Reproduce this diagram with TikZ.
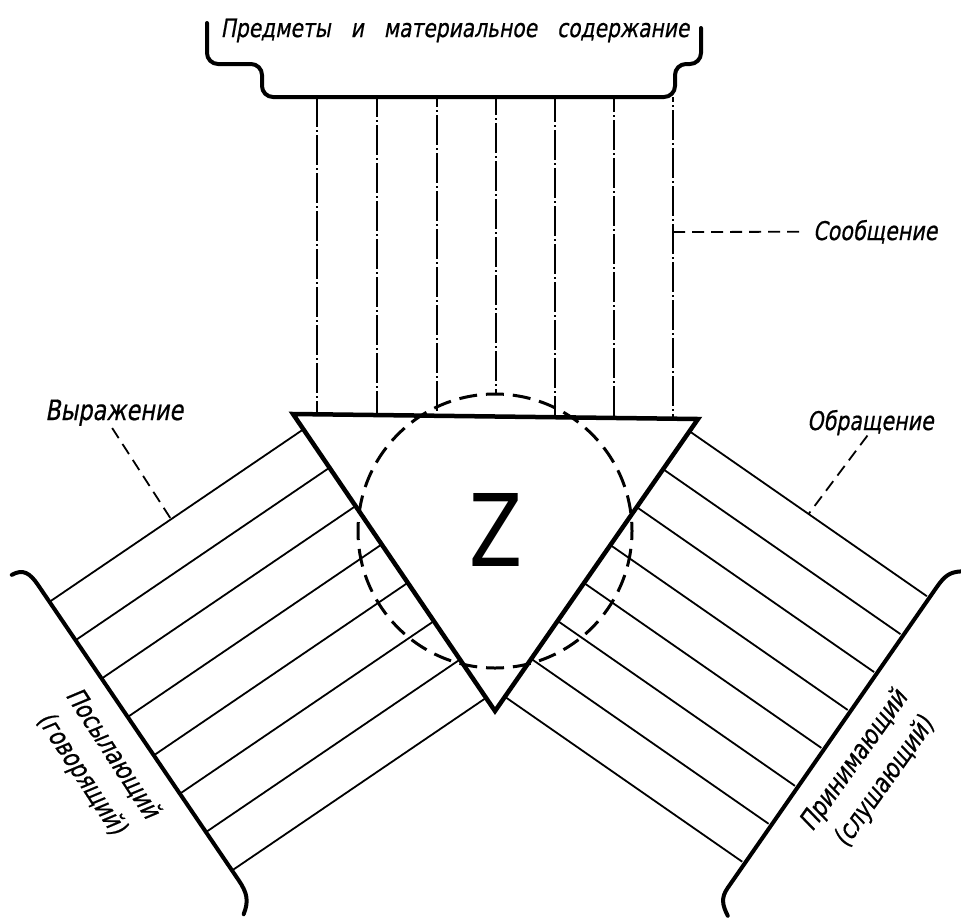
\documentclass[tikz,border=0pt]{standalone}
\usepackage{fontspec}
\usepackage{graphicx}
\usetikzlibrary{calc}
\newfontfamily\lab[FakeStretch=0.8,FakeSlant=0.18,FakeBold=0.6]{DejaVu Sans}
\newfontfamily\zfont{DejaVu Sans}
\begin{document}
\begin{tikzpicture}[x=1pt,y=-1pt,
  thinline/.style={line width=1.8pt},
  rayline/.style={line width=1.5pt, dash pattern=on 30pt off 3pt on 2pt off 3pt},
  heavy/.style={line width=4.5pt, line join=miter},
  bracketline/.style={line width=4pt, line cap=round},
  leader/.style={line width=1.8pt, dash pattern=on 12pt off 7pt},
  circ/.style={line width=3pt, dash pattern=on 18pt off 8.9pt, dash phase=9pt},
  labeltext/.style={font=\lab\fontsize{24}{26}\selectfont, inner sep=0pt},
  sidetext/.style={font=\lab\fontsize{26.5}{37}\selectfont, align=center, inner sep=0pt},
]
\useasboundingbox (0,0) rectangle (961,919);
\fill[white] (0,0) rectangle (961,919);

% main points
\coordinate (A) at (293,414);
\coordinate (B) at (698,419);
\coordinate (C) at (495,711);
\coordinate (O) at (495,531);

% top bracket
\draw[bracketline, rounded corners=11pt] (207,23) -- (207,64) -- (262,64) -- (262,97) -- (675,97) -- (675,64) -- (701,64) -- (701,28);

% vertical lines (message)
\foreach \x/\y/\ph in {317/414.3/0, 377/415/10, 437/415.8/20, 555/417.2/5, 614/418/15, 673/418.7/25} {
  \draw[rayline, dash phase=\ph pt] (\x,97) -- (\x,\y);
}
\draw[rayline, dash phase=12pt] (496,97) -- (496,394);
\coordinate (mesg) at (673,232);

% left band (expression)
\begin{scope}[shift={(A)}, rotate=-55.8]
  \foreach \k in {0,...,7} {
    \draw[thinline] ({18.5+46.4*\k},0) -- ({18.5+46.4*\k},306);
  }
  \draw[bracketline] (-25,323) .. controls (-24,310) and (-16,307) .. (-2,307) -- (355,307) .. controls (370,307) and (378,310) .. (386,322);
  \coordinate (expr) at (18.5,160);
\end{scope}

% right band (appeal)
\begin{scope}[shift={(B)}, rotate=235.2, yscale=-1]
  \foreach \k in {0,...,7} {
    \draw[thinline] ({14.9+46.2*\k},0) -- ({14.9+46.2*\k},289);
  }
  \draw[bracketline] (-25,303) .. controls (-18,294) and (-12,292) .. (2,292) -- (368,292) .. controls (380,292) and (385,297) .. (391,308);
  \coordinate (appeal) at (14.9,145);
\end{scope}

% circle and triangle
\draw[circ] (O) circle[radius=137];
\draw[heavy] (A) -- (B) -- (C) -- cycle;
\node[inner sep=0pt] (Z) at (496,530) {\resizebox{53pt}{73pt}{\zfont Z}};

% labels
\node[labeltext, anchor=base] (pred) at (455,37) {\fontsize{25.3}{27}\selectfont Предметы\hspace{20pt}и\hspace{20pt}материальное\hspace{20pt}содержание};
\node[labeltext, anchor=base west] (soob) at (813,240) {\fontsize{25.8}{27}\selectfont Сообщение};
\node[labeltext, anchor=base west] (vyr) at (45,420) {\fontsize{28}{30}\selectfont Выражение};
\node[labeltext, anchor=base west] (obr) at (807,430) {\fontsize{25.8}{27}\selectfont Обращение};

\node[sidetext, rotate=-57] (sender) at (96.5,764) {Посылающий\\(говорящий)};
\node[sidetext, rotate=54.5] (receiver) at (869.5,771.5) {Принимающий\\(слушающий)};

% leaders
\draw[leader] (mesg) -- ($(soob.west)+(-8,0)$);
\draw[leader] ($(vyr.south)+(-2,2)$) -- (expr);
\draw[leader] ($(obr.south)+(-3,0)$) -- (appeal);
\end{tikzpicture}
\end{document}
